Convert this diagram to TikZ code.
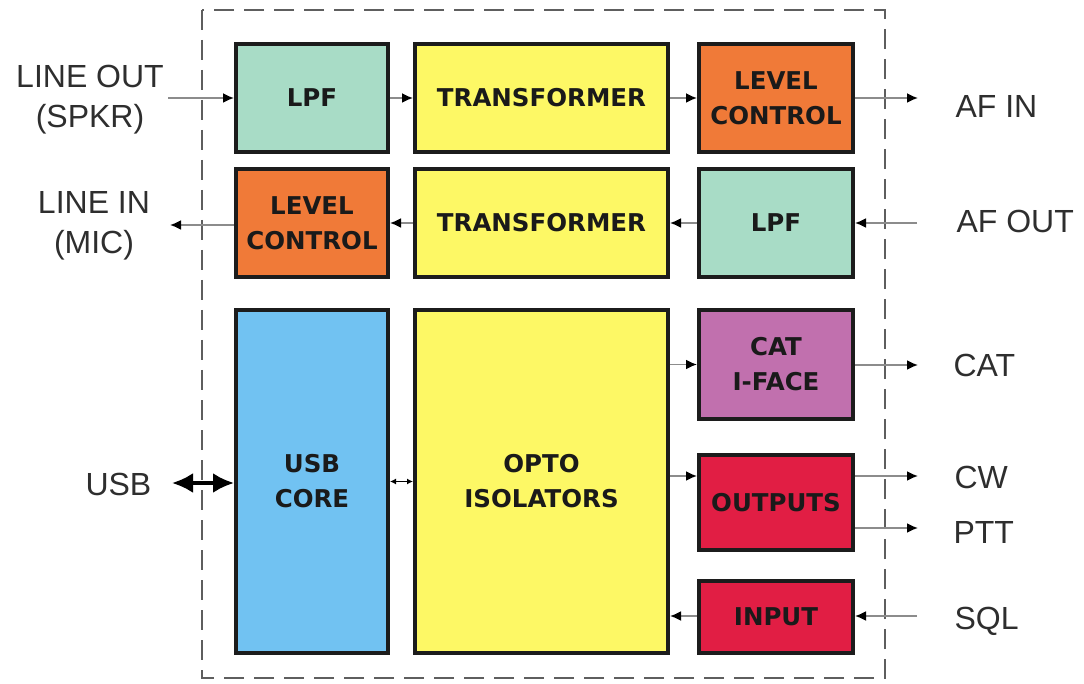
\documentclass[tikz,border=0pt]{standalone}
\usepackage{fontspec}
\setmainfont{Liberation Sans}
\newfontfamily\boxfont{DejaVu Sans}
\usepackage{xcolor}
\usetikzlibrary{arrows.meta}

\definecolor{lpfgreen}{HTML}{A8DCC6}
\definecolor{lvlorange}{HTML}{F07A38}
\definecolor{trfyellow}{HTML}{FDF865}
\definecolor{usbblue}{HTML}{71C2F2}
\definecolor{catpurple}{HTML}{C170AE}
\definecolor{iored}{HTML}{E11E44}
\definecolor{boxline}{HTML}{1C1C1C}
\definecolor{boxtext}{HTML}{1A1A1A}
\definecolor{lbltext}{HTML}{2E2E2E}
\definecolor{wiregray}{HTML}{8C8C8C}
\definecolor{framegray}{HTML}{5E5E5E}

\begin{document}
\begin{tikzpicture}[x=1pt,y=-1pt,>=Latex,
  blk/.style={draw=boxline,line width=4pt,inner sep=0pt,align=center,text=boxtext,
    font=\boxfont\bfseries\fontsize{24.5}{35}\selectfont},
  lbl/.style={font=\fontsize{32}{40}\selectfont,text=lbltext,align=center},
  wire/.style={draw=wiregray,line width=1.8pt,-{Latex[length=11pt,width=10pt,color=black]}},
  usbwire/.style={draw=black,line width=3.5pt,{Latex[length=21pt,width=20pt]}-{Latex[length=21pt,width=20pt]}},
  frame/.style={draw=framegray,line width=2pt,dash pattern=on 20pt off 10pt}]
  \useasboundingbox (0,0) rectangle (1084,684);
  \draw[frame] (202,10) rectangle (885,678);

  % top row: line out -> af in
  \node[blk,fill=lpfgreen,minimum width=152pt,minimum height=108pt] (lpfa) at (312,98) {LPF};
  \node[blk,fill=trfyellow,minimum width=253pt,minimum height=108pt] (trfa) at (541.5,98) {TRANSFORMER};
  \node[blk,fill=lvlorange,minimum width=154pt,minimum height=108pt] (lvla) at (776,98) {LEVEL\\CONTROL};
  % second row: af out -> line in
  \node[blk,fill=lvlorange,minimum width=152pt,minimum height=108pt] (lvlb) at (312,223) {LEVEL\\CONTROL};
  \node[blk,fill=trfyellow,minimum width=253pt,minimum height=108pt] (trfb) at (541.5,223) {TRANSFORMER};
  \node[blk,fill=lpfgreen,minimum width=154pt,minimum height=108pt] (lpfb) at (776,223) {LPF};
  % usb part
  \node[blk,fill=usbblue,minimum width=152pt,minimum height=343pt] (usbcore) at (312,481.5) {USB\\CORE};
  \node[blk,fill=trfyellow,minimum width=253pt,minimum height=343pt] (opto) at (541.5,481.5) {OPTO\\ISOLATORS};
  \node[blk,fill=catpurple,minimum width=154pt,minimum height=109pt] (cat) at (776,364.5) {CAT\\I-FACE};
  \node[blk,fill=iored,minimum width=154pt,minimum height=95pt] (outs) at (776,502.5) {OUTPUTS};
  \node[blk,fill=iored,minimum width=154pt,minimum height=72pt] (inp) at (776,617) {INPUT};

  % outside ends
  \coordinate (lineout) at (168,98);
  \coordinate (linein) at (170,225);
  \coordinate (afin) at (918,98);
  \coordinate (afout) at (917,223);
  \coordinate (catout) at (918,365);
  \coordinate (cwout) at (918,476);
  \coordinate (pttout) at (918,528);
  \coordinate (sqlin) at (917,616);
  \coordinate (usbin) at (172,483);

  \node[lbl] (lineoutlbl) at (90,100) {LINE OUT\\(SPKR)};
  \node[lbl] (lineinlbl) at (94,226) {LINE IN\\(MIC)};
  \node[lbl,anchor=base west] (afinlbl) at (952,118) {AF IN};
  \node[lbl,anchor=base west] (afoutlbl) at (953,233) {AF OUT};
  \node[lbl,anchor=base west] (catlbl) at (950,377) {CAT};
  \node[lbl,anchor=base west] (cwlbl) at (951,488) {CW};
  \node[lbl,anchor=base west] (pttlbl) at (950,543) {PTT};
  \node[lbl,anchor=base west] (sqllbl) at (951,629) {SQL};
  \node[lbl,anchor=base west] (usblbl) at (82,495) {USB};

  % connectors
  \draw[wire] (lineout) -- (lpfa);
  \draw[wire] (lpfa) -- (trfa);
  \draw[wire] (trfa) -- (lvla);
  \draw[wire] (lvla) -- (afin);
  \draw[wire] (afout) -- (lpfb);
  \draw[wire] (lpfb) -- (trfb);
  \draw[wire] (trfb) -- (lvlb);
  \draw[wire] (lvlb.west |- linein) -- (linein);
  \draw[usbwire] (usbin) -- (usbcore.west |- usbin);
  \draw[draw=black,line width=1.5pt,{Latex[length=6pt,width=6pt]}-{Latex[length=6pt,width=6pt]}] (usbcore) -- (opto);
  \draw[wire] (opto.east |- cat.west) -- (cat.west);
  \draw[wire] (opto.east |- cwout) -- (outs.west |- cwout);
  \draw[wire] (inp.west |- sqlin) -- (opto.east |- sqlin);
  \draw[wire] (cat.east |- catout) -- (catout);
  \draw[wire] (outs.east |- cwout) -- (cwout);
  \draw[wire] (outs.east |- pttout) -- (pttout);
  \draw[wire] (sqlin) -- (inp.east |- sqlin);
\end{tikzpicture}
\end{document}
